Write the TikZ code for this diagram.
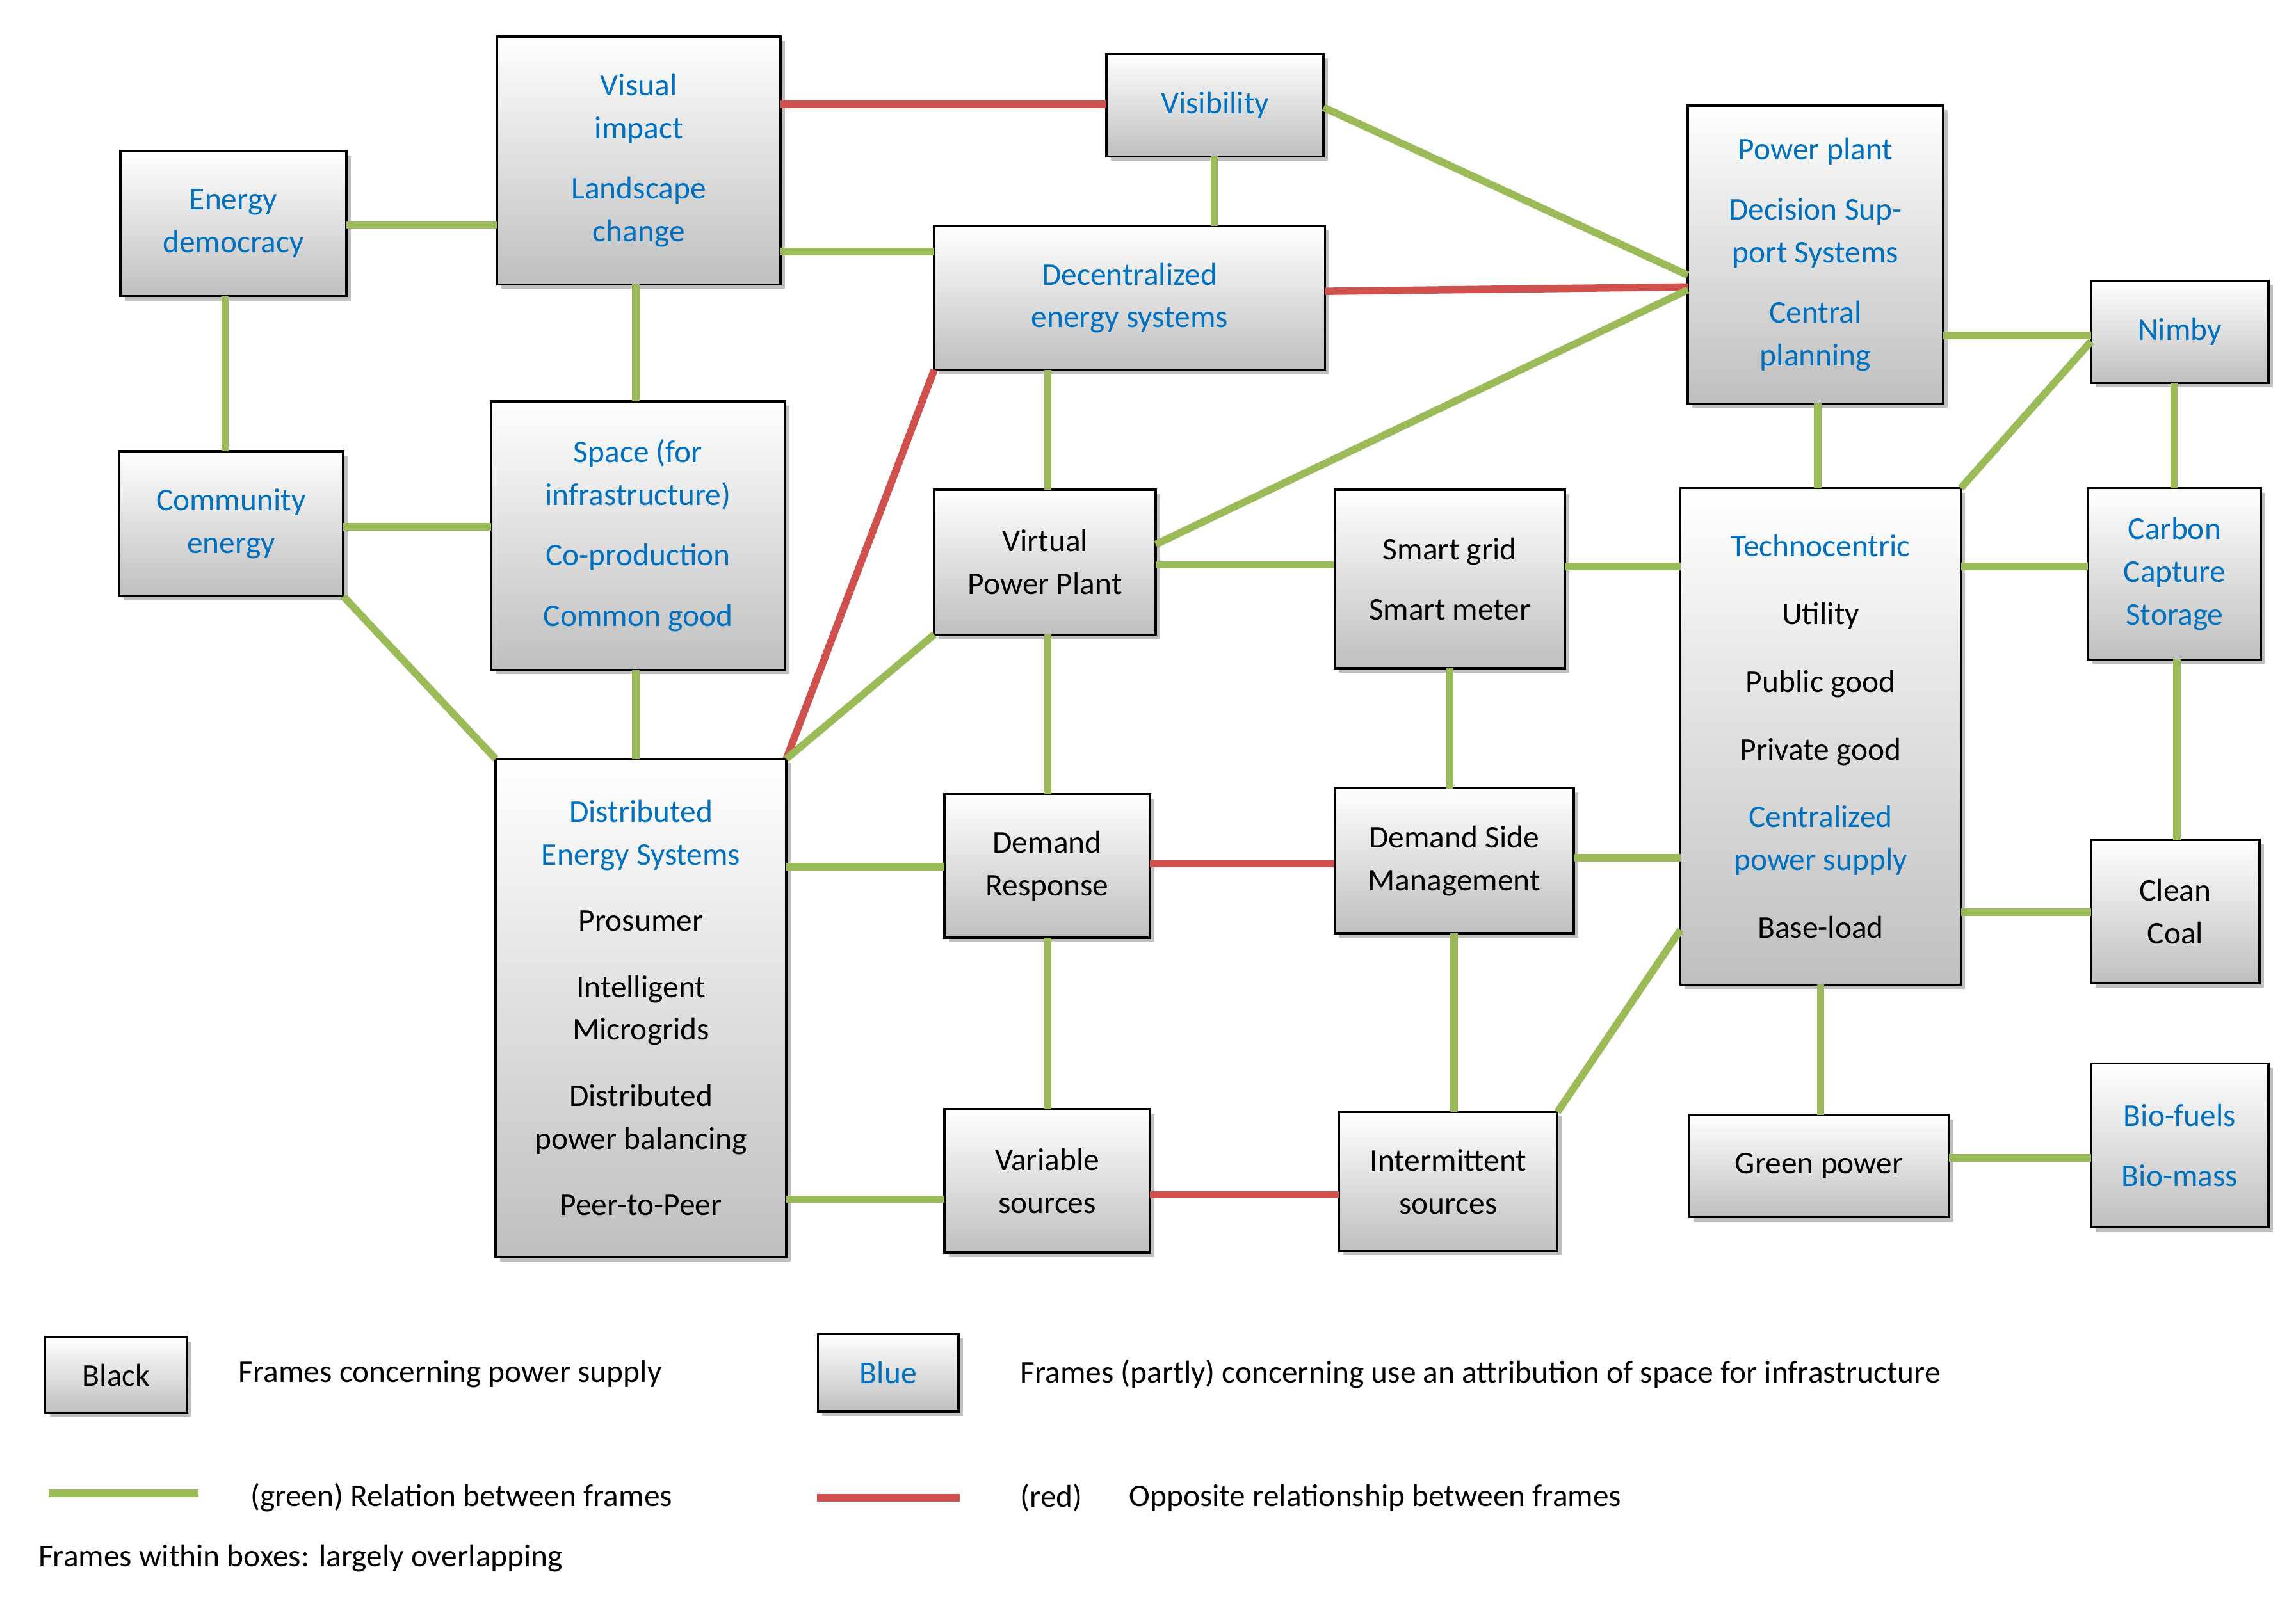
\documentclass[tikz,border=0pt]{standalone}
\usepackage{fontspec}
\setmainfont{Carlito}
\usetikzlibrary{shadows}
\definecolor{tb}{HTML}{0070C0}
\definecolor{lg}{HTML}{9BBB59}
\definecolor{lr}{HTML}{D0504D}
\begin{document}
\begin{tikzpicture}[x=1pt,y=-1pt,
  box/.style={draw=black,line width=1.5pt,top color=white,bottom color=gray!50,
    drop shadow={shadow xshift=3pt,shadow yshift=-3pt,opacity=0.5},
    align=center,inner sep=0pt,outer sep=0pt,font=\fontsize{21.5}{29}\selectfont},
  g/.style={draw=lg,line width=5pt},
  r/.style={draw=lr,line width=5pt},
  lt/.style={anchor=west,font=\fontsize{21.5}{24}\selectfont,inner sep=0pt}]
\useasboundingbox (0,0) rectangle (1560,1085);
\fill[white] (0,0) rectangle (1560,1085);
\newcommand{\bx}[6]{\node[box,minimum width={#4-#2-1.5},minimum height={#5-#3-1.5}] (#1) at ({(#2+#4)/2},{(#3+#5)/2}) {#6};}
\bx{ed}{81}{102}{236}{202}{\color{tb}Energy\\\color{tb}democracy}
\bx{vi}{337}{24}{531}{194}{\color{tb}Visual\\\color{tb}impact\\[12pt]\color{tb}Landscape\\\color{tb}change}
\bx{vis}{751}{36}{900}{107}{\color{tb}Visibility}
\bx{des}{634}{153}{901}{252}{\color{tb}Decentralized\\\color{tb}energy systems}
\bx{pp}{1146}{71}{1321}{275}{\color{tb}Power plant\\[12pt]\color{tb}Decision Sup-\\\color{tb}port Systems\\[12pt]\color{tb}Central\\\color{tb}planning}
\bx{nim}{1420}{190}{1542}{261}{\color{tb}Nimby}
\bx{ce}{80}{306}{234}{406}{\color{tb}Community\\\color{tb}energy}
\bx{sp}{333}{272}{534}{456}{\color{tb}Space (for\\\color{tb}infrastructure)\\[12pt]\color{tb}Co-production\\[12pt]\color{tb}Common good}
\bx{vpp}{634}{332}{786}{432}{Virtual\\Power Plant}
\bx{sg}{906}{332}{1064}{455}{Smart grid\\[12pt]Smart meter}
\bx{tc}{1141}{331}{1333}{670}{\color{tb}Technocentric\\[17pt]Utility\\[17pt]Public good\\[17pt]Private good\\[17pt]\color{tb}Centralized\\\color{tb}power supply\\[17pt]Base-load}
\bx{ccs}{1418}{331}{1537}{449}{\color{tb}Carbon\\\color{tb}Capture\\\color{tb}Storage}
\bx{dis}{336}{515}{535}{855}{\color{tb}Distributed\\\color{tb}Energy Systems\\[16pt]Prosumer\\[16pt]Intelligent\\Microgrids\\[16pt]Distributed\\power balancing\\[16pt]Peer-to-Peer}
\bx{dr}{641}{539}{782}{638}{Demand\\Response}
\bx{dsm}{906}{535}{1070}{635}{Demand Side\\Management}
\bx{cc}{1420}{570}{1536}{669}{Clean\\Coal}
\bx{vs}{641}{753}{782}{852}{Variable\\sources}
\bx{is}{909}{755}{1059}{851}{Intermittent\\sources}
\bx{gp}{1147}{757}{1325}{828}{Green power}
\bx{bf}{1420}{722}{1542}{835}{\color{tb}Bio-fuels\\[12pt]\color{tb}Bio-mass}
% edges
\draw[g] (ed.east |- 0,153) -- (vi.west |- 0,153);
\draw[r] (vi.east |- 0,71) -- (vis.west |- 0,71);
\draw[g] (vi.east |- 0,171) -- (des.west |- 0,171);
\draw[g] (vis.south -| 825,0) -- (des.north -| 825,0);
\draw[g] (vis.east |- 0,73) -- (pp.west |- 0,187);
\draw[r] (des.east |- 0,198) -- (pp.west |- 0,195);
\draw[g] (vpp.east |- 0,370) -- (pp.west |- 0,197);
\draw[g] (pp.east |- 0,228) -- (nim.west |- 0,228);
\draw[g] (pp.south -| 1235,0) -- (tc.north -| 1235,0);
\draw[g] (tc.north east) -- (nim.west |- 0,232);
\draw[g] (nim.south -| 1477,0) -- (ccs.north -| 1477,0);
\draw[g] (ccs.south -| 1479,0) -- (cc.north -| 1479,0);
\draw[g] (tc.east |- 0,385) -- (ccs.west |- 0,385);
\draw[g] (tc.east |- 0,620) -- (cc.west |- 0,620);
\draw[g] (tc.south -| 1237,0) -- (gp.north -| 1237,0);
\draw[g] (gp.east |- 0,787) -- (bf.west |- 0,787);
\draw[g] (ed.south -| 153,0) -- (ce.north -| 153,0);
\draw[g] (ce.east |- 0,358) -- (sp.west |- 0,358);
\draw[g] (ce.south east) -- (dis.north west);
\draw[g] (vi.south -| 432,0) -- (sp.north -| 432,0);
\draw[g] (sp.south -| 432,0) -- (dis.north -| 432,0);
\draw[r] (des.south west) -- (dis.north east);
\draw[g] (vpp.south west) -- (dis.north east);
\draw[g] (des.south -| 712,0) -- (vpp.north -| 712,0);
\draw[g] (vpp.east |- 0,384) -- (sg.west |- 0,384);
\draw[g] (sg.east |- 0,385) -- (tc.west |- 0,385);
\draw[g] (vpp.south -| 712,0) -- (dr.north -| 712,0);
\draw[g] (dis.east |- 0,589) -- (dr.west |- 0,589);
\draw[r] (dr.east |- 0,587) -- (dsm.west |- 0,587);
\draw[g] (sg.south -| 985,0) -- (dsm.north -| 985,0);
\draw[g] (dsm.east |- 0,583) -- (tc.west |- 0,583);
\draw[g] (dr.south -| 712,0) -- (vs.north -| 712,0);
\draw[g] (dis.east |- 0,815) -- (vs.west |- 0,815);
\draw[r] (vs.east |- 0,812) -- (is.west |- 0,812);
\draw[g] (dsm.south -| 988,0) -- (is.north -| 988,0);
\draw[g] (is.north east) -- (tc.west |- 0,632);
% legend
\bx{lb}{30}{908}{128}{961}{Black}
\bx{lbl}{555}{906}{652}{960}{\color{tb}Blue}
\node[lt] (t1) at (162,934) {Frames concerning power supply};
\node[lt] (t2) at (693,934) {Frames (partly) concerning use an attribution of space for infrastructure};
\coordinate (g1) at (33,1015); \coordinate (g2) at (135,1015);
\draw[g] (g1) -- (g2);
\node[lt] (t3) at (170,1018) {(green) Relation between frames};
\coordinate (r1) at (555,1018); \coordinate (r2) at (652,1018);
\draw[r] (r1) -- (r2);
\node[lt] (t4) at (693,1018) {(red)};
\node[lt] (t5) at (767,1018) {Opposite relationship between frames};
\node[lt] (t6) at (26,1059) {Frames within boxes: largely overlapping};
\end{tikzpicture}
\end{document}
